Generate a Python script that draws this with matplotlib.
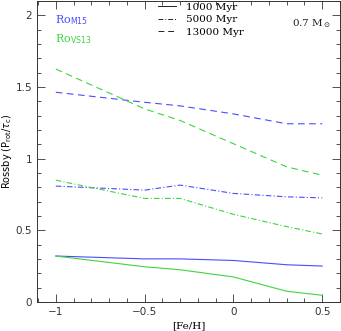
import numpy as np
import matplotlib
matplotlib.use("Agg")
import matplotlib.pyplot as plt
from matplotlib.ticker import MultipleLocator
from matplotlib.lines import Line2D

# metalicidad
feh = [-1.0, -0.5, -0.3, 0.0, 0.3, 0.5]

# Rossby segun M15 (azul) y VS13 (verde) para cada edad
m15_1000 = [0.32, 0.30, 0.30, 0.289, 0.259, 0.25]
vs13_1000 = [0.32, 0.245, 0.224, 0.174, 0.074, 0.046]
m15_5000 = [0.808, 0.78, 0.815, 0.757, 0.733, 0.726]
vs13_5000 = [0.849, 0.722, 0.722, 0.611, 0.525, 0.474]
m15_13000 = [1.463, 1.393, 1.368, 1.312, 1.243, 1.243]
vs13_13000 = [1.625, 1.347, 1.266, 1.104, 0.942, 0.884]

edades = ["1000 Myr", "5000 Myr", "13000 Myr"]
estilos = ["-", (0, (5, 2, 1, 2)), (0, (6, 4))]

azul = "#4b4bff"
verde = "#3fd43f"

fig = plt.figure(figsize=(3.41, 3.31), dpi=100)
ax = fig.add_axes([0.109, 0.088, 0.888, 0.909])

for m15, vs13, ls in zip([m15_1000, m15_5000, m15_13000],
                         [vs13_1000, vs13_5000, vs13_13000], estilos):
    ax.plot(feh, m15, color=azul, ls=ls, lw=0.8)
    ax.plot(feh, vs13, color=verde, ls=ls, lw=0.8)

ax.set_xlim(-1.105, 0.6)
ax.set_ylim(0, 2.1)
ax.xaxis.set_major_locator(MultipleLocator(0.5))
ax.xaxis.set_minor_locator(MultipleLocator(0.1))
ax.yaxis.set_major_locator(MultipleLocator(0.5))
ax.yaxis.set_minor_locator(MultipleLocator(0.1))
ax.xaxis.set_major_formatter(plt.FuncFormatter(lambda v, p: ("%g" % v).replace("-", "\u2212")))
ax.yaxis.set_major_formatter(plt.FuncFormatter(lambda v, p: "%g" % v))
ax.tick_params(which="both", direction="in", top=True, right=True,
               labelsize=7.5, width=0.6, color="#333333", labelcolor="#333333")
ax.tick_params(which="major", length=6)
ax.tick_params(which="minor", length=3)
for s in ax.spines.values():
    s.set_linewidth(0.7)
    s.set_color("#333333")

ax.set_xlabel("[Fe/H]", fontsize=7.5, family="DejaVu Serif", labelpad=3)
ax.set_ylabel(r"Rossby (P$_{\rm rot}$/$\tau_{\rm c}$)", fontsize=7, labelpad=1)

ax.text(0.06, 0.925, r"Ro$_{\rm M15}$", color=azul, fontsize=8,
        family="DejaVu Serif", transform=ax.transAxes)
ax.text(0.06, 0.862, r"Ro$_{\rm VS13}$", color=verde, fontsize=8,
        family="DejaVu Serif", transform=ax.transAxes)
ax.text(0.97, 0.915, r"0.7 M$_\odot$", color="#222222", fontsize=7.5,
        family="DejaVu Serif", ha="right", transform=ax.transAxes)

handles = [Line2D([], [], color="#222222", ls=ls, lw=0.7) for ls in estilos]
ax.legend(handles, edades, loc="upper center", bbox_to_anchor=(0.54, 1.025),
          frameon=False, prop={"family": "DejaVu Serif", "size": 7.5},
          handlelength=1.8, handletextpad=0.9, labelspacing=0.28)

fig.savefig("out.png", dpi=100)
